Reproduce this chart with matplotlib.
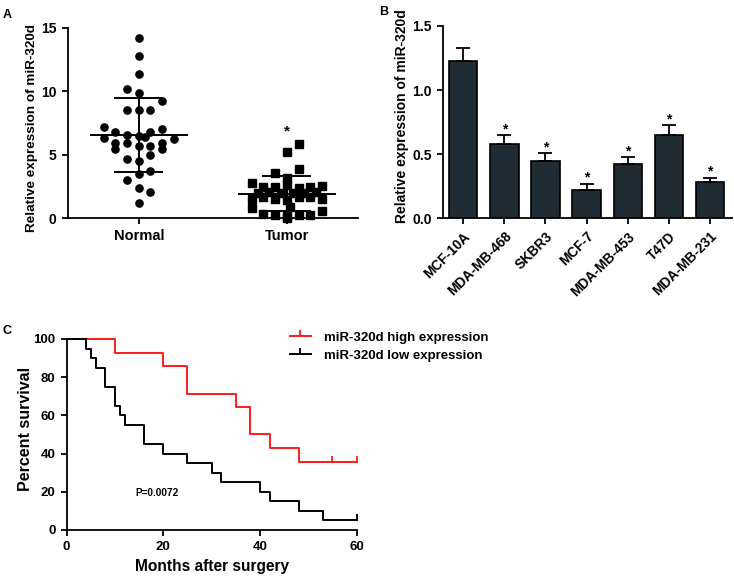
import numpy as np
import matplotlib
matplotlib.use('Agg')
import matplotlib.pyplot as plt
from matplotlib.lines import Line2D
from matplotlib.path import Path

plt.rcParams['font.family'] = ['Liberation Sans', 'DejaVu Sans']
plt.rcParams['font.weight'] = 'bold'
plt.rcParams['axes.labelweight'] = 'bold'
plt.rcParams['axes.linewidth'] = 1.3
plt.rcParams['xtick.major.width'] = 1.3
plt.rcParams['ytick.major.width'] = 1.3
plt.rcParams['xtick.major.size'] = 4.5
plt.rcParams['ytick.major.size'] = 4.5

# A: 每个样本的相对表达量 (value, column offset in the dot plot)
normal_vals = [14.2, 12.8, 11.35, 10.2, 9.85, 9.2, 8.5, 8.5, 8.5, 7.2, 7.0, 6.8, 6.8,
               6.35, 6.55, 6.5, 6.4, 6.2, 5.95, 5.9, 5.95, 5.7, 5.7, 5.45, 5.45, 5.0,
               4.65, 4.5, 3.75, 3.5, 3.05, 2.35, 2.05, 1.2]
normal_cols = [0, 0, 0, -1, 0, 2, -1, 0, 1, -3, 2, -2, 1,
               -3, -1, 0, 0.5, 3, -2, -1, 2, 0, 1, -2, 2, 1,
               -1, 0, 1, 0, -1, 0, 1, 0]
tumor_vals = [5.85, 5.25, 3.85, 3.55, 3.2, 2.8, 2.5, 2.5, 2.6, 2.35, 2.5, 2.55,
              2.0, 2.1, 2.0, 2.0, 2.0, 2.05, 1.5, 1.65, 1.55, 1.45, 1.65, 1.65, 1.5,
              0.8, 0.6, 0.3, 0.25, 0.2, 0.25, 0.25, 0.0, 0.9]
tumor_cols = [1, 0, 1, -1, 0, -3, -2, -1, 0, 1, 2, 3,
              -2.5, -1.5, -0.5, 0.5, 1.5, 2.5, -3, -2, -1, 0, 1, 2, 3,
              -3, 3, -2, -1, 0, 1, 2, 0, 0.3]
groupNames = ['Normal', 'Tumor']

# B: 细胞系表达量
cell_lines = ['MCF-10A', 'MDA-MB-468', 'SKBR3', 'MCF-7', 'MDA-MB-453', 'T47D', 'MDA-MB-231']
cell_means = [1.23, 0.58, 0.45, 0.22, 0.42, 0.65, 0.28]
cell_errs = [0.10, 0.07, 0.057, 0.05, 0.06, 0.076, 0.037]
cell_sig = [False, True, True, True, True, True, True]

# C: 生存曲线
high_times = [0, 10, 20, 25, 35, 38, 42, 48, 60]
high_surv = [100, 92.86, 85.71, 71.43, 64.29, 50.0, 42.86, 35.71, 35.71]
high_censor = [55, 60]
low_times = [0, 4, 5, 6, 8, 10, 11, 12, 16, 20, 25, 30, 32, 40, 42, 48, 53, 60]
low_surv = [100, 95, 90, 85, 75, 65, 60, 55, 45, 40, 35, 30, 25, 20, 15, 10, 5, 5]
low_censor = [60]
p_text = 'P=0.0072'

fig = plt.figure(figsize=(7.34, 5.76), dpi=100)

# ---------- A ----------
axA = fig.add_axes([0.0922, 0.621, 0.3955, 0.331])
dx = 0.079
for gi, (vals, cols, mk) in enumerate([(normal_vals, normal_cols, 'o'), (tumor_vals, tumor_cols, 's')]):
    vals = np.array(vals)
    xs = gi + np.array(cols) * dx
    axA.plot(xs, vals, mk, color='black', markersize=5.2, clip_on=False, zorder=3)
    m = vals.mean()
    sd = vals.std(ddof=1)
    axA.hlines(m, gi - 0.33, gi + 0.33, color='black', lw=1.4, zorder=4)
    axA.hlines([m - sd, m + sd], gi - 0.165, gi + 0.165, color='black', lw=1.4, zorder=4)
    axA.vlines(gi, m - sd, m + sd, color='black', lw=1.4, zorder=4)
axA.text(1, max(tumor_vals) + 0.95, '*', ha='center', va='center', fontsize=11)
axA.set_xlim(-0.48, 1.48)
axA.set_ylim(0, 15)
axA.set_yticks([0, 5, 10, 15])
axA.set_xticks([0, 1])
axA.set_xticklabels(groupNames, fontsize=10.5)
axA.tick_params(axis='y', labelsize=10)
axA.spines['top'].set_visible(False)
axA.spines['right'].set_visible(False)
axA.set_ylabel('Relative expression of miR-320d', fontsize=9.7)
axA.yaxis.label.set_va('center')
axA.yaxis.set_label_coords(-0.124, 0.474)
fig.text(0.004, 0.985, 'A', fontsize=9, va='top')

# ---------- B ----------
axB = fig.add_axes([0.6031, 0.621, 0.3938, 0.334])
xb = np.arange(len(cell_lines))
axB.bar(xb, cell_means, width=0.69, color='#1f2c33', edgecolor='black', linewidth=1.2)
axB.errorbar(xb, cell_means, yerr=[np.zeros(len(xb)), cell_errs], fmt='none',
             ecolor='black', elinewidth=1.3, capsize=4.7, capthick=1.3)
for i in range(len(xb)):
    if cell_sig[i]:
        axB.text(xb[i], cell_means[i] + cell_errs[i] + 0.045, '*', ha='center', va='center', fontsize=10)
axB.set_xlim(-0.5, 6.53)
axB.set_ylim(0, 1.5)
axB.set_yticks([0, 0.5, 1.0, 1.5])
axB.set_yticklabels(['0.0', '0.5', '1.0', '1.5'])
axB.set_xticks(xb)
axB.set_xticklabels(cell_lines, rotation=45, ha='right', rotation_mode='anchor', fontsize=9.8)
axB.tick_params(axis='y', labelsize=10)
axB.spines['top'].set_visible(False)
axB.spines['right'].set_visible(False)
axB.set_ylabel('Relative expression of miR-320d', fontsize=10)
axB.yaxis.label.set_va('center')
axB.yaxis.set_label_coords(-0.142, 0.533)
fig.text(0.516, 0.989, 'B', fontsize=9, va='top')

# ---------- C ----------
axC = fig.add_axes([0.0906, 0.0799, 0.3952, 0.3316])
tickMark = Path([[0, 0], [0, 1]])
axC.step(high_times, high_surv, where='post', color='#ff1a1a', lw=1.4, clip_on=False)
axC.step(low_times, low_surv, where='post', color='black', lw=1.4, clip_on=False)
axC.plot(high_censor, [high_surv[-1]] * len(high_censor), linestyle='none', marker=tickMark,
         markersize=9, color='#ff1a1a', mew=1.3, clip_on=False)
axC.plot(low_censor, [low_surv[-1]] * len(low_censor), linestyle='none', marker=tickMark,
         markersize=9, color='black', mew=1.3, clip_on=False)
axC.text(14.3, 19.2, p_text, ha='left', va='center', fontsize=7.2)
axC.set_xlim(0, 60)
axC.set_ylim(0, 100)
axC.set_xticks([0, 20, 40, 60])
axC.set_yticks([0, 20, 40, 60, 80, 100])
axC.tick_params(labelsize=9.5)
axC.spines['top'].set_visible(False)
axC.spines['right'].set_visible(False)
axC.set_xlabel('Months after surgery', fontsize=11.2)
axC.set_ylabel('Percent survival', fontsize=11.5)
axC.xaxis.label.set_va('center')
axC.yaxis.label.set_va('center')
axC.xaxis.set_label_coords(0.501, -0.192)
axC.yaxis.set_label_coords(-0.141, 0.529)
legendHandles = [
    Line2D([], [], color='#ff1a1a', lw=1.4, marker=tickMark, markersize=9, mew=1.3),
    Line2D([], [], color='black', lw=1.4, marker=tickMark, markersize=9, mew=1.3),
]
axC.legend(legendHandles, ['miR-320d high expression', 'miR-320d low expression'],
           loc='upper left', bbox_to_anchor=(0.77, 1.04), frameon=False, fontsize=9.5,
           handlelength=1.6, handletextpad=1.0, labelspacing=0.45, borderpad=0, borderaxespad=0,
           numpoints=1)
fig.text(0.004, 0.436, 'C', fontsize=9, va='top')

fig.savefig('out.png', dpi=100)
